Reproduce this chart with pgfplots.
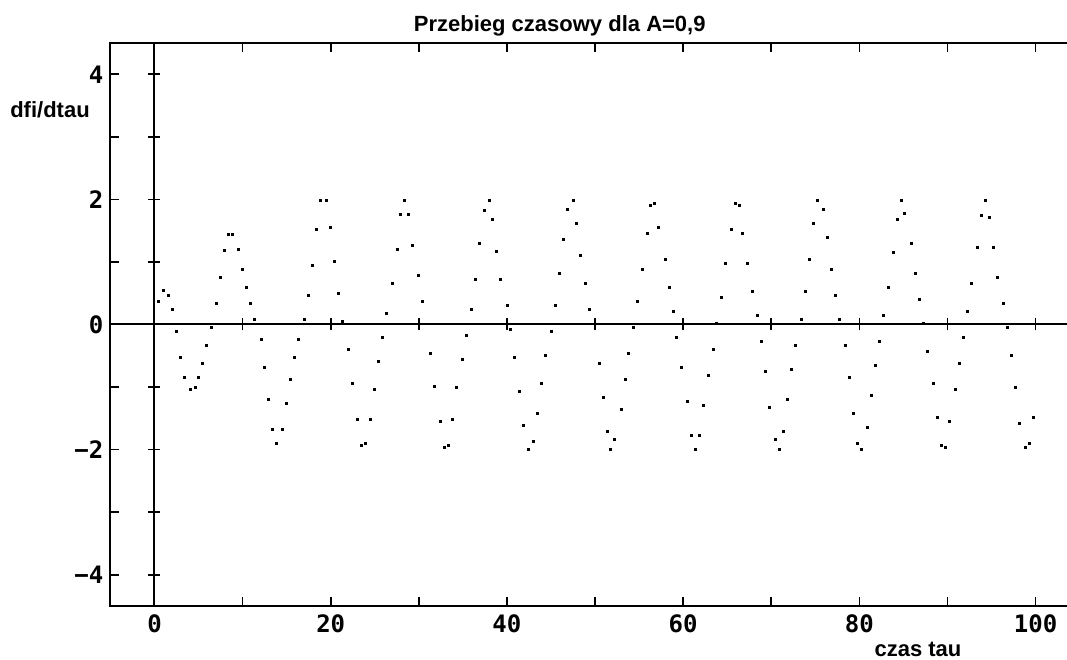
\documentclass[border=0pt]{standalone}
\usepackage{pgfplots}
\usepackage{pgfplotstable}
\pgfplotsset{compat=1.18}
\usepackage{fontspec}
\setmainfont{Liberation Sans}
\newfontfamily\tickfont{DejaVu Sans Mono Bold}
\pgfplotstableread{
t v
0.43 0.377
0.96 0.54
1.6 0.47
2.06 0.25
2.52 -0.11
2.97 -0.52
3.43 -0.84
4.07 -1.035
4.6 -1.01
5.0 -0.84
5.43 -0.62
5.88 -0.33
6.41 -0.04
7.06 0.34
7.47 0.75
7.93 1.18
8.42 1.44
8.87 1.44
9.5 1.21
10.0 0.89
10.46 0.60
10.9 0.345
11.33 0.09
12.09 -0.23
12.5 -0.68
12.96 -1.2
13.37 -1.67
13.87 -1.90
14.55 -1.67
14.96 -1.26
15.42 -0.875
15.9 -0.52
16.36 -0.23
17.0 0.09
17.5 0.47
17.96 0.95
18.41 1.53
18.82 1.98
19.55 1.98
20.0 1.55
20.45 1.01
20.9 0.50
21.36 0.056
22.04 -0.40
22.5 -0.94
22.98 -1.52
23.44 -1.93
23.9 -1.90
24.54 -1.52
25.0 -1.035
25.45 -0.585
25.9 -0.2
26.36 0.18
27.04 0.66
27.5 1.21
27.95 1.76
28.4 1.98
28.85 1.76
29.3 1.27
29.95 0.79
30.44 0.377
31.35 -0.46
31.8 -0.98
32.48 -1.55
32.94 -1.96
33.4 -1.93
33.84 -1.52
34.3 -1.0
34.98 -0.55
35.43 -0.17
35.93 0.25
36.38 0.725
36.83 1.30
37.48 1.82
37.97 1.98
38.39 1.69
38.84 1.175
39.3 0.725
40.01 0.31
40.43 -0.08
40.88 -0.52
41.37 -1.07
41.82 -1.61
42.47 -2.0
42.96 -1.865
43.41 -1.42
43.87 -0.94
44.32 -0.49
45.0 -0.11
45.46 0.31
45.91 0.82
46.37 1.37
46.82 1.84
47.5 1.98
47.92 1.62
48.37 1.11
48.86 0.66
49.32 0.25
50.45 -0.62
50.9 -1.17
51.36 -1.70
51.78 -1.99
52.24 -1.83
52.96 -1.36
53.41 -0.875
53.83 -0.46
54.3 -0.045
54.77 0.37
55.4 0.89
55.9 1.46
56.32 1.91
56.77 1.945
57.23 1.56
57.98 1.04
58.4 0.60
58.85 0.21
59.27 -0.2
59.8 -0.69
60.44 -1.23
60.9 -1.77
61.35 -1.99
61.8 -1.77
62.26 -1.29
62.9 -0.81
63.43 -0.40
63.81 0.02
64.3 0.44
64.75 0.98
65.47 1.53
65.89 1.945
66.35 1.91
66.77 1.46
67.26 0.98
67.9 0.53
68.36 0.15
68.84 -0.265
69.3 -0.75
69.75 -1.32
70.43 -1.84
70.92 -1.99
71.34 -1.71
71.8 -1.20
72.25 -0.72
72.74 -0.33
73.38 0.09
73.84 0.53
74.29 1.04
74.78 1.62
75.2 1.98
75.88 1.84
76.37 1.40
76.79 0.89
77.24 0.47
77.7 0.09
78.41 -0.33
78.87 -0.84
79.28 -1.42
79.74 -1.90
80.2 -2.0
80.88 -1.645
81.3 -1.13
81.78 -0.655
82.24 -0.265
82.69 0.15
83.34 0.60
83.83 1.15
84.28 1.69
84.73 1.98
85.15 1.78
85.87 1.30
86.32 0.82
86.78 0.40
87.23 0.02
87.72 -0.43
88.37 -0.94
88.82 -1.49
89.27 -1.93
89.73 -1.96
90.18 -1.55
90.86 -1.035
91.31 -0.62
91.77 -0.2
92.22 0.21
92.68 0.66
93.36 1.24
93.81 1.75
94.27 1.98
94.76 1.72
95.21 1.24
95.63 0.76
96.35 0.345
96.8 -0.04
97.26 -0.49
97.68 -1.0
98.17 -1.58
98.84 -1.96
99.26 -1.90
99.72 -1.49
}\data
\begin{document}
\begin{tikzpicture}
\begin{axis}[name=ax, scale only axis, width=719.25pt, height=422.25pt,
  xmin=-5.05, xmax=103.8, ymin=-4.5, ymax=4.5,
  axis line style={line width=1.4pt, black},
  xtick={0,20,...,100}, minor xtick={10,30,...,90},
  ytick={-4,-2,...,4}, minor ytick={-3,-1,1,3},
  xticklabels={0,20,40,60,80,100}, yticklabels={−4,−2,0,2,4},
  xtick pos=both, xticklabel pos=lower, ytick pos=left, tick align=inside,
  major tick length=6.75pt, minor tick length=6.75pt,
  every tick/.append style={line width=1.2pt, black},
  every minor tick/.append style={line width=1.2pt, black},
  ticklabel style={font=\tickfont\fontsize{18}{18}\selectfont},
  yticklabel style={xshift=-1.5pt},
  xticklabel style={yshift=-3pt},
  every axis title/.style={at={(axis description cs:0.469,1)}, anchor=base, inner sep=0pt, yshift=8.5pt, font=\bfseries\fontsize{16.5}{16.5}\selectfont},
  every axis x label/.style={at={(axis description cs:0.8425,0)}, anchor=base, inner sep=0pt, yshift=-37.5pt, font=\bfseries\fontsize{16.5}{16.5}\selectfont},
  every axis y label/.style={at={(axis description cs:0,0.867)}, anchor=base east, inner sep=0pt, xshift=-15pt, font=\bfseries\fontsize{16.5}{16.5}\selectfont},
  title={Przebieg czasowy dla A=0,9},
  xlabel={czas tau}, ylabel={dfi/dtau},
]
\addplot[only marks, mark=square*, mark size=0.75pt, black] table[x=t, y=v] {\data};
\end{axis}
\begin{axis}[scale only axis, width=719.25pt, height=422.25pt,
  xmin=-5.05, xmax=103.8, ymin=-4.5, ymax=4.5,
  axis lines=middle, axis line style={-, line width=1.5pt, black},
  xtick={10,20,...,100}, ytick={-4,-3,-2,-1,1,2,3,4},
  xticklabels={}, yticklabels={},
  tick align=center, major tick length=9pt,
  every tick/.append style={line width=1.2pt, black},
]
\end{axis}
\pgfresetboundingbox
\path[use as bounding box] ([shift={(-82.5pt,-40.5pt)}]ax.south west) rectangle ([shift={(-1.5pt,32.25pt)}]ax.north east);
\end{tikzpicture}
\end{document}
